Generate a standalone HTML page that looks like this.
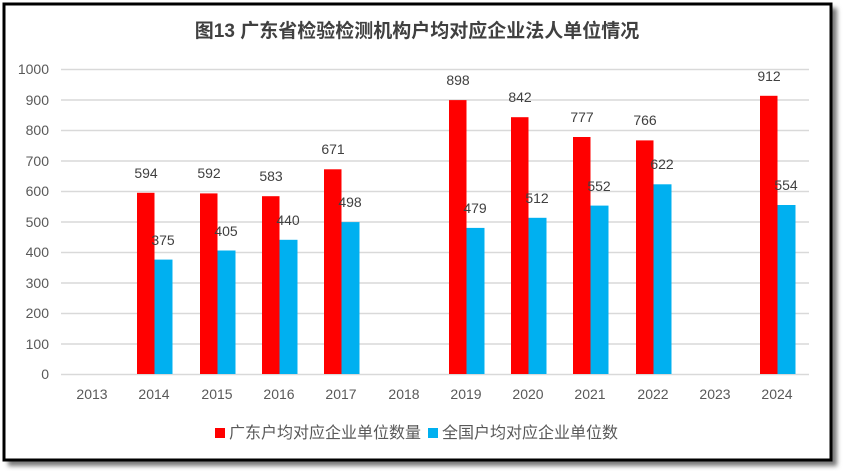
<!DOCTYPE html>
<html><head><meta charset="utf-8"><style>
body{margin:0;background:#fff;width:843px;height:471px;overflow:hidden;}
svg{display:block;font-family:"Liberation Sans","Noto Sans CJK SC",sans-serif;}
</style></head><body>
<svg width="843" height="471" xmlns="http://www.w3.org/2000/svg">
<defs><filter id="sh" x="-5%" y="-5%" width="110%" height="115%"><feGaussianBlur stdDeviation="2.5"/></filter></defs>
<rect x="8" y="8" width="829" height="458" fill="#777" filter="url(#sh)"/>
<rect x="4" y="4" width="827" height="456" fill="#fff" stroke="#000" stroke-width="3"/>
<text x="417" y="37" text-anchor="middle" font-size="19" font-weight="bold" fill="#404040">图13  广东省检验检测机构户均对应企业法人单位情况</text>
<g stroke="#d9d9d9" stroke-width="1.5">
<line x1="61" x2="809" y1="69.5" y2="69.5"/><line x1="61" x2="809" y1="100" y2="100"/><line x1="61" x2="809" y1="130.5" y2="130.5"/><line x1="61" x2="809" y1="161" y2="161"/><line x1="61" x2="809" y1="191.5" y2="191.5"/><line x1="61" x2="809" y1="222" y2="222"/><line x1="61" x2="809" y1="252.5" y2="252.5"/><line x1="61" x2="809" y1="283" y2="283"/><line x1="61" x2="809" y1="313.5" y2="313.5"/><line x1="61" x2="809" y1="344" y2="344"/><line x1="61" x2="809" y1="374.5" y2="374.5"/>
</g>
<g font-size="14" fill="#595959" text-anchor="end">
<text x="49" y="74">1000</text><text x="49" y="105">900</text><text x="49" y="135">800</text><text x="49" y="166">700</text><text x="49" y="196">600</text><text x="49" y="227">500</text><text x="49" y="257">400</text><text x="49" y="288">300</text><text x="49" y="318">200</text><text x="49" y="349">100</text><text x="49" y="379">0</text>
</g>
<g font-size="14" fill="#595959" text-anchor="middle">
<text x="92" y="399">2013</text><text x="154" y="399">2014</text><text x="217" y="399">2015</text><text x="279" y="399">2016</text><text x="341" y="399">2017</text><text x="404" y="399">2018</text><text x="466" y="399">2019</text><text x="528" y="399">2020</text><text x="590" y="399">2021</text><text x="653" y="399">2022</text><text x="715" y="399">2023</text><text x="777" y="399">2024</text>
</g>
<g fill="#ff0000">
<rect x="137" y="192.8" width="17.5" height="181.2"/>
<rect x="200" y="193.4" width="17.5" height="180.6"/>
<rect x="262" y="196.2" width="17.5" height="177.8"/>
<rect x="324" y="169.3" width="17.5" height="204.7"/>
<rect x="449" y="100.1" width="17.5" height="273.9"/>
<rect x="511" y="117.2" width="17.5" height="256.8"/>
<rect x="573" y="137" width="17.5" height="237"/>
<rect x="636" y="140.4" width="17.5" height="233.6"/>
<rect x="760" y="95.8" width="17.5" height="278.2"/>
</g>
<g fill="#00b0f0">
<rect x="154.5" y="259.6" width="18" height="114.4"/>
<rect x="217.5" y="250.5" width="18" height="123.5"/>
<rect x="279.5" y="239.8" width="18" height="134.2"/>
<rect x="341.5" y="222.1" width="18" height="151.9"/>
<rect x="466.5" y="227.9" width="18" height="146.1"/>
<rect x="528.5" y="217.8" width="18" height="156.2"/>
<rect x="590.5" y="205.6" width="18" height="168.4"/>
<rect x="653.5" y="184.3" width="18" height="189.7"/>
<rect x="777.5" y="205" width="18" height="169"/>
</g>
<g font-size="14" fill="#404040" text-anchor="middle">
<text x="146" y="178">594</text><text x="209" y="178">592</text><text x="271" y="181">583</text><text x="333" y="154">671</text><text x="458" y="85">898</text><text x="520" y="102">842</text><text x="582" y="122">777</text><text x="645" y="125">766</text><text x="769" y="81">912</text>
<text x="163" y="245">375</text><text x="226" y="236">405</text><text x="288" y="225">440</text><text x="350" y="207">498</text><text x="475" y="213">479</text><text x="537" y="203">512</text><text x="599" y="191">552</text><text x="662" y="169">622</text><text x="786" y="190">554</text>
</g>
<rect x="215" y="428" width="10" height="10" fill="#ff0000"/>
<text x="229" y="438" font-size="16" fill="#595959">广东户均对应企业单位数量</text>
<rect x="428" y="428" width="10" height="10" fill="#00b0f0"/>
<text x="442" y="438" font-size="16" fill="#595959">全国户均对应企业单位数</text>
</svg>
</body></html>
